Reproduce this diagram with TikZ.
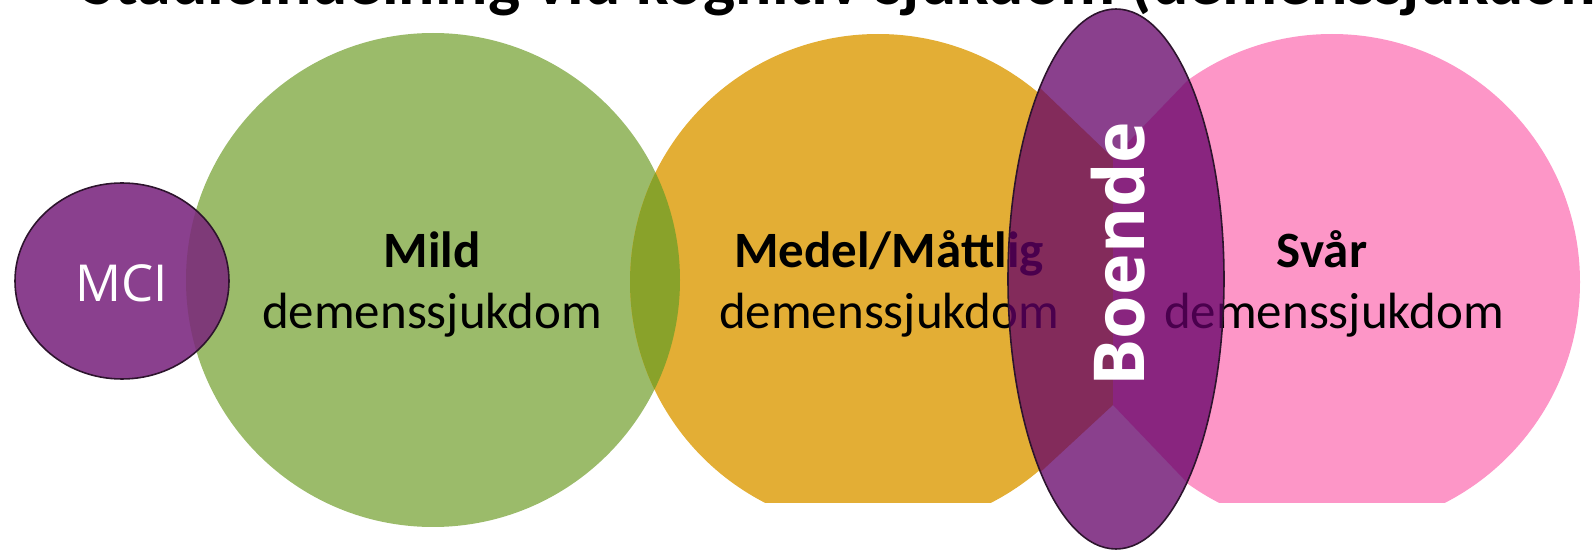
\documentclass[tikz,border=0pt]{standalone}
\usepackage{fontspec}
\setmainfont{Carlito}
\newfontfamily\osfont{Open Sans}
\definecolor{cgreen}{RGB}{155,187,106}
\definecolor{corange}{RGB}{227,174,53}
\definecolor{cpink}{RGB}{253,150,199}
\definecolor{colive}{RGB}{137,162,42}
\definecolor{cmci}{RGB}{138,64,142}
\definecolor{cmcid}{RGB}{126,58,120}
\definecolor{cell}{RGB}{99,0,104}
\definecolor{coutl}{RGB}{45,20,45}
\tikzset{
  lbl/.style={anchor=base, inner sep=0pt, text=black, font=\fontsize{14.5}{17}\selectfont},
  lblb/.style={anchor=base, inner sep=0pt, text=black, font=\fontsize{14.5}{17}\selectfont\bfseries},
  outl/.style={draw=coutl, line width=0.45pt},
  ovalshape/.style={x radius=10.8mm, y radius=27mm},
  mcishape/.style={x radius=10.7mm, y radius=9.8mm}
}
\begin{document}
\begin{tikzpicture}[x=0.1mm,y=-0.1mm]
\useasboundingbox (0,0) rectangle (1594,551);
\clip (0,0) rectangle (1594,551);
% green circle
\fill[cgreen] (433,280) circle[radius=24.7mm];
% orange and pink circles with flat bottoms
\begin{scope}
  \clip (0,0) rectangle (1594,502);
  \fill[corange] (878,282) circle[radius=24.8mm];
  \fill[cpink] (1332,282) circle[radius=24.8mm];
\end{scope}
% green/orange overlap
\begin{scope}
  \clip (433,280) circle[radius=24.7mm];
  \fill[colive] (878,282) circle[radius=24.8mm];
\end{scope}
% regions under the oval
\begin{scope}
  \clip (1116,279) ellipse[ovalshape];
  \fill[white] (990,0) rectangle (1240,560);
  \fill[corange] (967,18) -- (1113,158) -- (1113,405) -- (967,540) -- (900,540) -- (900,18) -- cycle;
  \fill[cpink] (1263,2) -- (1113,158) -- (1113,405) -- (1263,562) -- (1330,562) -- (1330,2) -- cycle;
\end{scope}
% labels
\node[lblb] (mild) at (432,268) {Mild};
\node[lbl] (mildd) at (432,328) {demenssjukdom};
\node[lblb] (medel) at (889,268) {Medel/Måttlig};
\node[lbl] (medeld) at (889,328) {demenssjukdom};
\node[lblb] (svar) at (1322,268) {Svår};
\node[lbl] (svard) at (1334,328) {demenssjukdom};
% translucent oval
\fill[cell, opacity=0.75] (1116,279) ellipse[ovalshape];
\draw[outl] (1116,279) ellipse[ovalshape];
\node[rotate=90, inner sep=0pt, text=white, font=\osfont\bfseries\fontsize{20}{24}\selectfont] (boende) at (1118,254) {Boende};
% MCI circle
\fill[cmci] (122,281) ellipse[mcishape];
\begin{scope}
  \clip (433,280) circle[radius=24.7mm];
  \fill[cmcid] (122,281) ellipse[mcishape];
\end{scope}
\draw[outl] (122,281) ellipse[mcishape];
\node[inner sep=0pt, text=white, font=\osfont\fontsize{14.5}{17}\selectfont] (mci) at (122,283) {MCI};
% title (cut off at top)
\node[anchor=base west, inner sep=0pt, text=black, font=\fontsize{19.3}{23}\selectfont\bfseries] (title) at (82,5) {Stadieindelning vid kognitiv sjukdom (demenssjukdom};
\end{tikzpicture}
\end{document}
